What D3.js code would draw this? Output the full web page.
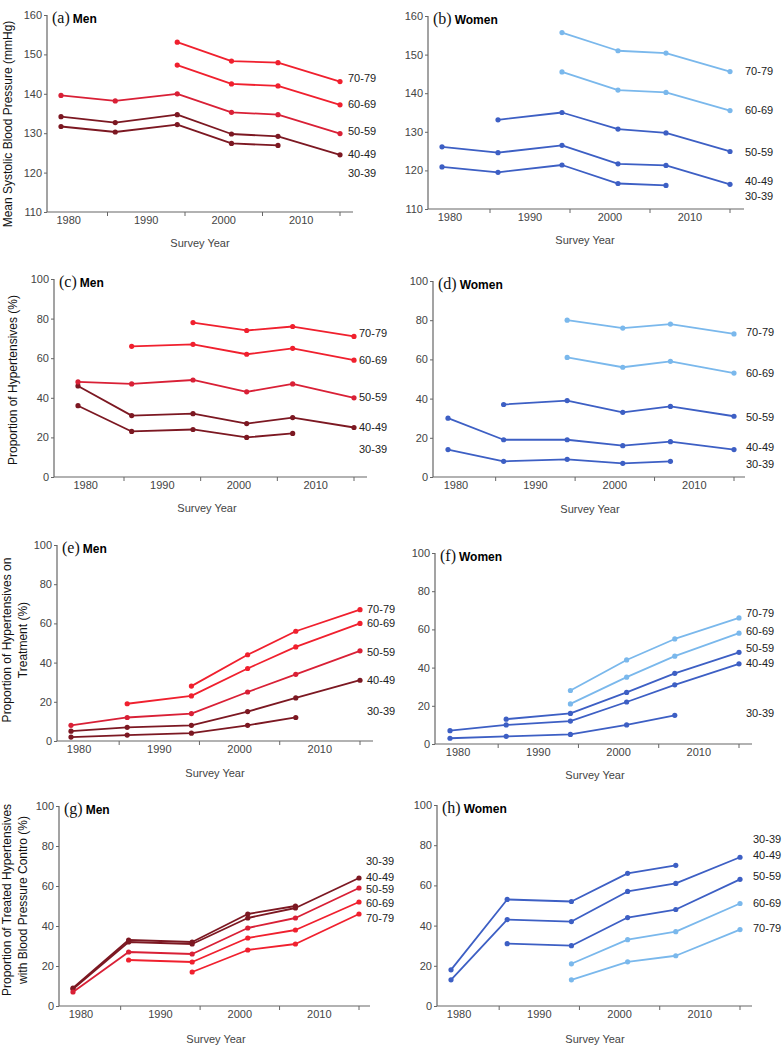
<!DOCTYPE html>
<html lang="en">
<head>
<meta charset="UTF-8">
<title>Blood pressure trends by age group</title>
<script src="https://cdn.jsdelivr.net/npm/d3@7"></script>
<style>
  body { margin: 0; background: #fff; }
  svg { display: block; font-family: "Liberation Sans", Arial, sans-serif; }
</style>
</head>
<body>
<div id="output"></div>
<script>

// survey years and age groups
var years = [1979, 1986, 1994, 2001, 2007, 2015];
var ages = ["30-39", "40-49", "50-59", "60-69", "70-79"];
var yearTicks = [1980, 1990, 2000, 2010];
var minorTicks = [1985, 1995, 2005, 2015];
var sbpTicks = [110, 120, 130, 140, 150, 160];
var pctTicks = [0, 20, 40, 60, 80, 100];

// one row per age group, in the order of ages; null = not surveyed
var sbpMen = [
  [131.7, 130.3, 132.2, 127.4, 126.9, null],
  [134.2, 132.7, 134.7, 129.8, 129.2, 124.5],
  [139.6, 138.2, 140.0, 135.3, 134.7, 129.9],
  [null, null, 147.3, 142.5, 142.0, 137.2],
  [null, null, 153.1, 148.3, 147.9, 143.1]
];
var sbpWomen = [
  [120.9, 119.5, 121.4, 116.6, 116.1, null],
  [126.1, 124.6, 126.5, 121.7, 121.3, 116.4],
  [null, 133.1, 135.0, 130.7, 129.7, 124.9],
  [null, null, 145.5, 140.8, 140.2, 135.5],
  [null, null, 155.7, 151.0, 150.4, 145.6]
];
var htnMen = [
  [36, 23, 24, 20, 22, null],
  [46, 31, 32, 27, 30, 25],
  [48, 47, 49, 43, 47, 40],
  [null, 66, 67, 62, 65, 59],
  [null, null, 78, 74, 76, 71]
];
var htnWomen = [
  [14, 8, 9, 7, 8, null],
  [30, 19, 19, 16, 18, 14],
  [null, 37, 39, 33, 36, 31],
  [null, null, 61, 56, 59, 53],
  [null, null, 80, 76, 78, 73]
];
var treatMen = [
  [2, 3, 4, 8, 12, null],
  [5, 7, 8, 15, 22, 31],
  [8, 12, 14, 25, 34, 46],
  [null, 19, 23, 37, 48, 60],
  [null, null, 28, 44, 56, 67]
];
var treatWomen = [
  [3, 4, 5, 10, 15, null],
  [7, 10, 12, 22, 31, 42],
  [null, 13, 16, 27, 37, 48],
  [null, null, 21, 35, 46, 58],
  [null, null, 28, 44, 55, 66]
];
var controlMen = [
  [9, 33, 32, 46, 50, null],
  [8.5, 32, 31, 44, 49, 64],
  [7, 27, 26, 39, 44, 59],
  [null, 23, 22, 34, 38, 52],
  [null, null, 17, 28, 31, 46]
];
var controlWomen = [
  [18, 53, 52, 66, 70, null],
  [13, 43, 42, 57, 61, 74],
  [null, 31, 30, 44, 48, 63],
  [null, null, 21, 33, 37, 51],
  [null, null, 13, 22, 25, 38]
];

var menColors = ["#7c1822", "#7c1822", "#d92036", "#f0202e", "#f0202e"];
var womenColors = ["#3d5fc4", "#3d5fc4", "#3d5fc4", "#7ab8ec", "#7ab8ec"];

// panel frames (pixels) and where the age labels sit (data units)
var panels = [
  { tag: "(a)", sex: "Men", data: sbpMen, colors: menColors, domain: [110, 160], ticks: sbpTicks,
    ax: 47, x0: 61, x1: 340, xEnd: 353, top: 15, bot: 212, labelX: 348,
    labelAt: [119.9, 124.6, 130.6, 137.5, 143.9],
    ytitle: ["Mean Systolic Blood Pressure (mmHg)"], ytX: [12], ytY: 124, sx: 200, sy: 247 },
  { tag: "(b)", sex: "Women", data: sbpWomen, colors: womenColors, domain: [110, 160], ticks: sbpTicks,
    ax: 428, x0: 442, x1: 730, xEnd: 744, top: 16, bot: 209, labelX: 745,
    labelAt: [113.4, 117.1, 124.6, 135.6, 145.6],
    ytitle: [], sx: 585, sy: 244 },
  { tag: "(c)", sex: "Men", data: htnMen, colors: menColors, domain: [0, 100], ticks: pctTicks,
    ax: 54, x0: 78, x1: 354, xEnd: 367, top: 279, bot: 477, labelX: 359,
    labelAt: [14.0, 25.3, 40.5, 59.1, 72.6],
    ytitle: ["Proportion of Hypertensives (%)"], ytX: [17], ytY: 380, sx: 207, sy: 512 },
  { tag: "(d)", sex: "Women", data: htnWomen, colors: womenColors, domain: [0, 100], ticks: pctTicks,
    ax: 433, x0: 448, x1: 734, xEnd: 745, top: 281, bot: 477, labelX: 746,
    labelAt: [6.5, 15.4, 30.7, 53.1, 73.7],
    ytitle: [], sx: 590, sy: 513 },
  { tag: "(e)", sex: "Men", data: treatMen, colors: menColors, domain: [0, 100], ticks: pctTicks,
    ax: 57, x0: 71, x1: 360, xEnd: 373, top: 545, bot: 741, labelX: 367,
    labelAt: [15.3, 31, 45.5, 60, 67.5],
    ytitle: ["Proportion of Hypertensives on", "Treatment (%)"], ytX: [11, 27], ytY: 640, sx: 215, sy: 777 },
  { tag: "(f)", sex: "Women", data: treatWomen, colors: womenColors, domain: [0, 100], ticks: pctTicks,
    ax: 435, x0: 450, x1: 739, xEnd: 752, top: 553, bot: 744, labelX: 746,
    labelAt: [16.2, 42.1, 50.1, 59, 68.6],
    ytitle: [], sx: 595, sy: 779 },
  { tag: "(g)", sex: "Men", data: controlMen, colors: menColors, domain: [0, 100], ticks: pctTicks,
    ax: 59, x0: 73, x1: 359, xEnd: 370, top: 806, bot: 1006, labelX: 366,
    labelAt: [72.4, 64.2, 58.2, 51.6, 43.8],
    ytitle: ["Proportion of Treated Hypertensives", "with Blood Pressure Contro (%)"], ytX: [11, 27], ytY: 900, sx: 216, sy: 1043 },
  { tag: "(h)", sex: "Women", data: controlWomen, colors: womenColors, domain: [0, 100], ticks: pctTicks,
    ax: 437, x0: 451, x1: 740, xEnd: 752, top: 805, bot: 1006, labelX: 753,
    labelAt: [83.1, 75, 64.7, 51.1, 38.5],
    ytitle: [], sx: 595, sy: 1043 }
];

var w = 784;
var h = 1058;
var svg = d3.select("#output")
    .append("svg")
    .attr("width", w)
    .attr("height", h);

panels.forEach(function (p) {
  var x = d3.scaleLinear().domain([1979, 2015]).range([p.x0, p.x1]);
  var y = d3.scaleLinear().domain(p.domain).range([p.bot, p.top]);
  var g = svg.append("g");

  // y axis
  var yAxis = d3.axisLeft(y).tickValues(p.ticks).tickSize(3).tickPadding(2);
  var gy = g.append("g").attr("transform", "translate(" + p.ax + ",0)").call(yAxis);
  gy.select(".domain").attr("stroke", "#666").attr("stroke-width", 1.2).attr("d", "M0," + p.top + "V" + p.bot);
  gy.selectAll(".tick line").attr("stroke", "#666");
  gy.selectAll(".tick text").attr("fill", "#444").style("font-size", "11px");

  // x axis: labelled decades, small ticks at the half decades
  var gx = g.append("g").attr("transform", "translate(0," + p.bot + ")");
  gx.append("line").attr("x1", p.ax).attr("x2", p.xEnd)
      .attr("stroke", "#666").attr("stroke-width", 1.2);
  gx.selectAll(".minor").data(minorTicks).enter().append("line")
      .attr("x1", function (d) { return x(d); })
      .attr("x2", function (d) { return x(d); })
      .attr("y1", 0).attr("y2", 4)
      .attr("stroke", "#666");
  gx.selectAll(".lab").data(yearTicks).enter().append("text")
      .attr("x", function (d) { return x(d); })
      .attr("y", 12)
      .attr("text-anchor", "middle")
      .attr("fill", "#444")
      .style("font-size", "11px")
      .text(function (d) { return d; });

  // axis titles
  g.append("text")
      .attr("x", p.sx).attr("y", p.sy)
      .attr("text-anchor", "middle")
      .attr("fill", "#444")
      .style("font-size", "11px")
      .text("Survey Year");

  p.ytitle.forEach(function (t, i) {
    g.append("text")
        .attr("transform", "translate(" + p.ytX[i] + "," + p.ytY + ") rotate(-90)")
        .attr("text-anchor", "middle")
        .attr("fill", "#111")
        .style("font-size", "12px")
        .text(t);
  });

  // panel title
  var title = g.append("text").attr("x", p.ax + 5).attr("y", p.top + 8);
  title.append("tspan")
      .style("font-family", "'Liberation Serif', 'Times New Roman', serif")
      .style("font-size", "16px")
      .attr("fill", "#111")
      .text(p.tag);
  title.append("tspan")
      .attr("dx", 3)
      .style("font-size", "12px")
      .style("font-weight", "bold")
      .attr("fill", "#000")
      .text(p.sex);

  // series
  var line = d3.line()
      .defined(function (d) { return d.v != null; })
      .x(function (d) { return x(d.year); })
      .y(function (d) { return y(d.v); });

  p.data.forEach(function (row, i) {
    var pts = years.map(function (yr, j) { return { year: yr, v: row[j] }; });
    g.append("path")
        .attr("d", line(pts))
        .attr("fill", "none")
        .attr("stroke", p.colors[i])
        .attr("stroke-width", 1.8)
        .attr("stroke-linejoin", "round");
    g.selectAll(null)
        .data(pts.filter(function (d) { return d.v != null; }))
        .enter().append("circle")
        .attr("cx", function (d) { return x(d.year); })
        .attr("cy", function (d) { return y(d.v); })
        .attr("r", 2.6)
        .attr("fill", p.colors[i]);

    g.append("text")
        .attr("x", p.labelX)
        .attr("y", y(p.labelAt[i]))
        .attr("dy", "0.35em")
        .attr("fill", "#222")
        .style("font-size", "11px")
        .text(ages[i]);
  });
});

</script>
</body>
</html>
